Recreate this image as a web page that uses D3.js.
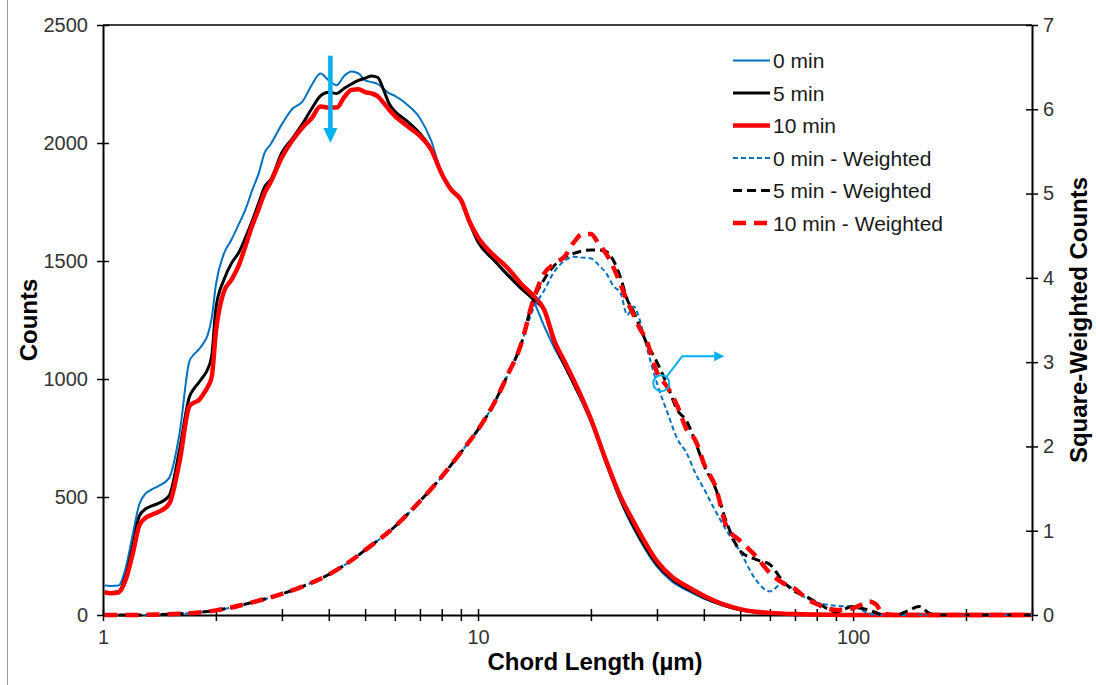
<!DOCTYPE html>
<html>
<head>
<meta charset="utf-8">
<script src="https://cdn.jsdelivr.net/npm/d3@7"></script>
<style>
  body { margin: 0; background: #fff; }
  svg { display: block; }
  text { font-family: "Liberation Sans", Arial, sans-serif; }
</style>
</head>
<body>
<svg id="chart" width="1096" height="685"></svg>
<script>
// Chord length bins (µm) for the raw count distributions
const chordLength = [1.01, 1.05, 1.1, 1.15, 1.2, 1.25, 1.3, 1.35, 1.4, 1.5,
  1.6, 1.7, 1.75, 1.8, 1.85, 1.9, 1.95, 2.0, 2.1, 2.2,
  2.3, 2.4, 2.5, 2.6, 2.7, 2.8, 3.0, 3.2, 3.4, 3.6,
  3.8, 4.0, 4.2, 4.4, 4.6, 4.8, 5.0, 5.2, 5.4, 5.6,
  5.8, 6.0, 6.5, 7.0, 7.5, 8.0, 8.5, 9, 9.5, 10,
  11, 12, 13, 14, 15, 16, 17, 18, 20, 22,
  24, 26, 28, 30, 33, 36, 40, 45, 50, 55,
  60, 70, 80, 100, 150, 300];

const counts0 = [125, 123, 125, 200, 340, 470, 515, 532, 545, 580,
  770, 1075, 1105, 1125, 1150, 1185, 1260, 1400, 1530, 1590,
  1655, 1720, 1800, 1870, 1960, 1995, 2080, 2145, 2175, 2245,
  2294, 2265, 2245, 2285, 2303, 2295, 2265, 2258, 2250, 2230,
  2210, 2200, 2160, 2105, 2010, 1870, 1800, 1755, 1660, 1590,
  1505, 1445, 1390, 1335, 1225, 1130, 1055, 975, 815, 635,
  480, 365, 275, 205, 140, 105, 70, 40, 20, 11,
  6, 3, 1, 0, 0, 0];

const counts5 = [98, 95, 100, 165, 290, 420, 450, 462, 472, 505,
  700, 925, 960, 985, 1010, 1040, 1100, 1300, 1420, 1490,
  1535, 1600, 1670, 1745, 1815, 1845, 1960, 2020, 2080, 2145,
  2200, 2215, 2210, 2232, 2250, 2265, 2275, 2284, 2278, 2225,
  2165, 2135, 2090, 2040, 1975, 1870, 1800, 1755, 1660, 1580,
  1505, 1440, 1385, 1340, 1290, 1150, 1060, 980, 830, 645,
  490, 375, 285, 215, 150, 112, 75, 42, 22, 12,
  7, 3, 1, 0, 0, 0];

const counts10 = [95, 92, 95, 150, 260, 380, 412, 425, 435, 470,
  650, 885, 900, 910, 935, 965, 1010, 1200, 1370, 1420,
  1480, 1565, 1650, 1720, 1790, 1835, 1940, 2012, 2065, 2105,
  2155, 2150, 2150, 2195, 2225, 2228, 2216, 2210, 2198, 2170,
  2140, 2115, 2070, 2030, 1972, 1870, 1800, 1760, 1665, 1600,
  1525, 1470, 1405, 1355, 1295, 1160, 1075, 995, 830, 650,
  500, 395, 303, 228, 160, 122, 82, 46, 25, 14,
  9, 4, 2, 0, 0, 0];

// Chord length bins (µm) for the square-weighted distributions
const chordLengthW = [1.01, 1.2, 1.4, 1.6, 1.8, 2.0, 2.5, 3.0, 3.5, 4.0,
  4.5, 5, 6, 7, 8, 9, 10, 11, 12, 13,
  14, 15, 16, 17, 18, 19, 20, 21, 22, 23,
  24, 25, 26, 27, 28, 30, 32, 34, 36, 38,
  40, 43, 46, 50, 55, 60, 65, 70, 75, 80,
  90, 100, 105, 110, 115, 120, 130, 140, 150, 160,
  170, 200, 300];

const weighted0 = [0, 0, 0.005, 0.015, 0.03, 0.055, 0.15, 0.25, 0.36, 0.48,
  0.62, 0.77, 1.05, 1.35, 1.64, 1.93, 2.2, 2.5, 2.85, 3.2,
  3.62, 3.85, 4.08, 4.2, 4.25, 4.24, 4.23, 4.15, 4.05, 3.9,
  3.82, 3.56, 3.66, 3.5, 3.22, 2.75, 2.4, 2.09, 1.92, 1.68,
  1.5, 1.23, 1.0, 0.75, 0.42, 0.28, 0.38, 0.29, 0.2, 0.15,
  0.11, 0.1, 0.06, 0.02, 0, 0, 0, 0, 0, 0,
  0, 0, 0];

const weighted5 = [0, 0, 0.005, 0.015, 0.03, 0.055, 0.15, 0.25, 0.36, 0.48,
  0.62, 0.77, 1.05, 1.35, 1.64, 1.93, 2.2, 2.5, 2.85, 3.2,
  3.72, 3.98, 4.15, 4.24, 4.29, 4.32, 4.33, 4.33, 4.31, 4.2,
  4.0, 3.74, 3.6, 3.42, 3.25, 3.0, 2.72, 2.43, 2.3, 2.05,
  1.78, 1.5, 1.1, 0.76, 0.66, 0.6, 0.4, 0.28, 0.22, 0.15,
  0.04, 0.1, 0.08, 0.06, 0.03, 0, 0, 0.05, 0.1, 0.02,
  0, 0, 0];

const weighted10 = [0, 0, 0.005, 0.015, 0.03, 0.055, 0.15, 0.25, 0.36, 0.48,
  0.62, 0.77, 1.05, 1.35, 1.64, 1.93, 2.2, 2.5, 2.85, 3.2,
  3.72, 4.05, 4.17, 4.25, 4.42, 4.52, 4.52, 4.4, 4.28, 4.12,
  3.92, 3.72, 3.56, 3.4, 3.28, 2.88, 2.7, 2.48, 2.2, 2.07,
  1.8, 1.52, 1.05, 0.88, 0.7, 0.5, 0.38, 0.31, 0.2, 0.13,
  0.06, 0.08, 0.12, 0.16, 0.13, 0.02, 0, 0, 0, 0,
  0, 0, 0];

const seriesNames = ["0 min", "5 min", "10 min",
  "0 min - Weighted", "5 min - Weighted", "10 min - Weighted"];
const countTicks = [0, 500, 1000, 1500, 2000, 2500];
const weightedTicks = [0, 1, 2, 3, 4, 5, 6, 7];
const xTickLabels = [1, 10, 100];

const svg = d3.select("#chart");
const W = 1096, H = 685;
const plot = { left: 103, right: 1032, top: 25, bottom: 615 };

const x = d3.scaleLog().domain([1, 300]).range([plot.left, plot.right]);
const yL = d3.scaleLinear().domain([0, 2500]).range([plot.bottom, plot.top]);
const yR = d3.scaleLinear().domain([0, 7]).range([plot.bottom, plot.top]);

const blue = "#0070C0", black = "#000000", red = "#FF0000", cyan = "#00B0F0";

// frame line on the far left
svg.append("line").attr("x1", 7.5).attr("x2", 7.5).attr("y1", 0).attr("y2", H)
  .attr("stroke", "#9a9a9a").attr("stroke-width", 1);

// top border of the plot area
svg.append("line").attr("x1", plot.left).attr("x2", plot.right)
  .attr("y1", plot.top).attr("y2", plot.top)
  .attr("stroke", "#000").attr("stroke-width", 1.5);

function crossTicks(g, horizontal) {
  g.select(".domain").attr("stroke", "#000").attr("stroke-width", 2);
  g.selectAll(".tick line").attr("stroke", "#000").attr("stroke-width", 1.5);
  if (horizontal) g.selectAll(".tick line").attr("y1", -6).attr("y2", 6);
  else g.selectAll(".tick line").attr("x1", -6).attr("x2", 6);
  g.selectAll(".tick text").attr("fill", "#333").style("font-size", "20px")
    .style("font-family", '"Liberation Sans", Arial, sans-serif');
}

// x axis (log)
const gx = svg.append("g").attr("transform", `translate(0,${plot.bottom})`)
  .call(d3.axisBottom(x).tickValues(x.ticks()).tickSizeOuter(0)
    .tickFormat(d => xTickLabels.includes(d) ? String(d) : ""))
  .call(g => crossTicks(g, true));
gx.selectAll(".tick text").attr("y", 15);

// left axis
const gl = svg.append("g").attr("transform", `translate(${plot.left},0)`)
  .call(d3.axisLeft(yL).tickValues(countTicks).tickSizeOuter(0).tickFormat(d3.format("d")))
  .call(g => crossTicks(g, false));
gl.selectAll(".tick text").attr("x", -15);

// right axis
const gr = svg.append("g").attr("transform", `translate(${plot.right},0)`)
  .call(d3.axisRight(yR).tickValues(weightedTicks).tickSizeOuter(0).tickFormat(d3.format("d")))
  .call(g => crossTicks(g, false));
gr.selectAll(".tick text").attr("x", 11);

// axis titles
svg.append("text").attr("transform", `translate(37,${(plot.top + plot.bottom) / 2}) rotate(-90)`)
  .attr("text-anchor", "middle").style("font-size", "24px").style("font-weight", "bold")
  .text("Counts");
svg.append("text").attr("transform", `translate(1087,${(plot.top + plot.bottom) / 2}) rotate(-90)`)
  .attr("text-anchor", "middle").style("font-size", "24px").style("font-weight", "bold")
  .text("Square-Weighted Counts");
svg.append("text").attr("x", 595).attr("y", 670)
  .attr("text-anchor", "middle").style("font-size", "24px").style("font-weight", "bold")
  .text("Chord Length (µm)");

// series
const series = [
  { name: seriesNames[0], xs: chordLength, ys: counts0, y: yL, color: blue, width: 2, dash: null },
  { name: seriesNames[1], xs: chordLength, ys: counts5, y: yL, color: black, width: 3, dash: null },
  { name: seriesNames[2], xs: chordLength, ys: counts10, y: yL, color: red, width: 4.5, dash: null },
  { name: seriesNames[3], xs: chordLengthW, ys: weighted0, y: yR, color: blue, width: 2, dash: "5,3" },
  { name: seriesNames[4], xs: chordLengthW, ys: weighted5, y: yR, color: black, width: 3, dash: "9,5" },
  { name: seriesNames[5], xs: chordLengthW, ys: weighted10, y: yR, color: red, width: 4.5, dash: "13,8" }
];

const plotG = svg.append("g");
series.forEach(s => {
  const pts = s.xs.map((v, i) => [v, s.ys[i]]);
  const line = d3.line().x(d => x(d[0])).y(d => s.y(d[1])).curve(d3.curveMonotoneX);
  plotG.append("path").attr("d", line(pts))
    .attr("fill", "none").attr("stroke", s.color).attr("stroke-width", s.width)
    .attr("stroke-linejoin", "round")
    .attr("stroke-dasharray", s.dash);
});

// legend
const legend = svg.append("g");
series.forEach((s, i) => {
  const cy = 60.5 + i * 32.5;
  legend.append("line").attr("x1", 733).attr("x2", 770).attr("y1", cy).attr("y2", cy)
    .attr("stroke", s.color).attr("stroke-width", s.width).attr("stroke-dasharray", s.dash);
  legend.append("text").attr("x", 773).attr("y", cy + 7.5)
    .attr("fill", "#1a1a1a").style("font-size", "21px").text(s.name);
});

// annotation: downward arrow over the count peaks
const ax = x(4.04), ay0 = yL(2370), ay1 = yL(2000);
svg.append("line").attr("x1", ax).attr("x2", ax).attr("y1", ay0).attr("y2", ay1 - 14)
  .attr("stroke", cyan).attr("stroke-width", 4.5);
svg.append("path").attr("d", `M${ax - 7},${ay1 - 15} L${ax + 7},${ay1 - 15} L${ax},${ay1} Z`)
  .attr("fill", cyan);

// annotation: circle on the weighted curves pointing to the right axis
const cx = x(30.8), cy = yR(2.75);
svg.append("circle").attr("cx", cx).attr("cy", cy).attr("r", 8)
  .attr("fill", "none").attr("stroke", cyan).attr("stroke-width", 2);
svg.append("path").attr("d", `M${cx + 5},${cy - 6} L${cx + 21},${cy - 27} L${cx + 55},${cy - 27}`)
  .attr("fill", "none").attr("stroke", cyan).attr("stroke-width", 2);
svg.append("path").attr("d", `M${cx + 53},${cy - 32} L${cx + 63},${cy - 27} L${cx + 53},${cy - 22} Z`)
  .attr("fill", cyan);
</script>
</body>
</html>
